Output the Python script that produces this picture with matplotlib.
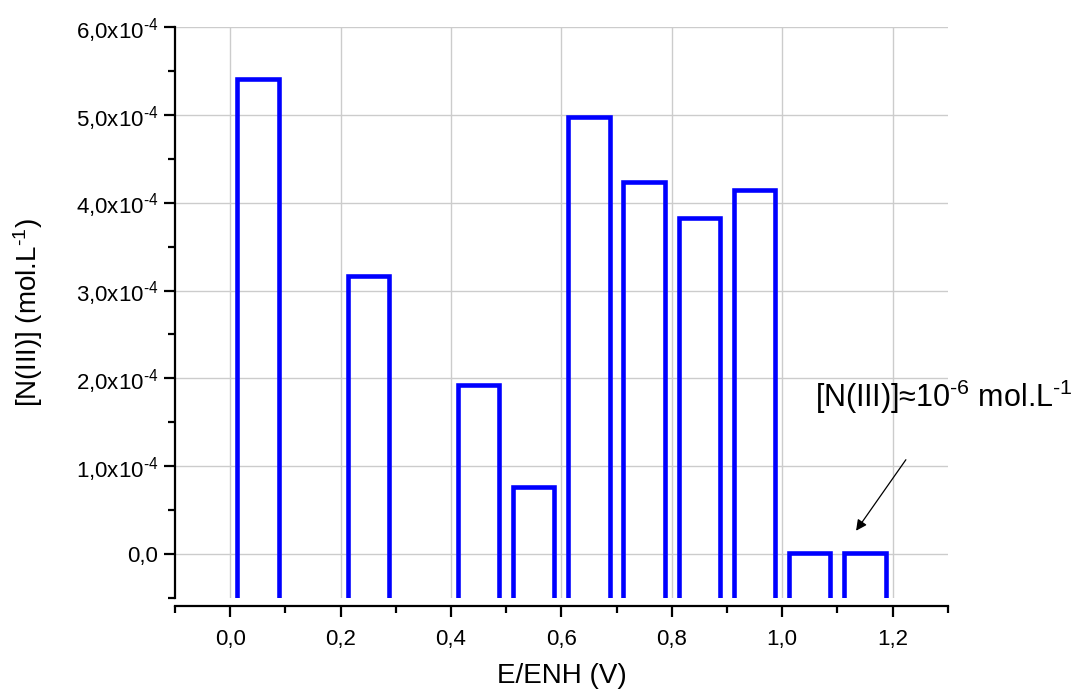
import matplotlib
matplotlib.use("Agg")
import matplotlib.pyplot as plt
from matplotlib.ticker import FixedLocator, MultipleLocator, FuncFormatter

plt.rcParams["font.family"] = ["Liberation Sans", "DejaVu Sans"]
plt.rcParams["mathtext.fontset"] = "custom"
plt.rcParams["mathtext.rm"] = "Liberation Sans"
plt.rcParams["mathtext.it"] = "Liberation Sans:italic"

# potentials (V vs ENH) and measured N(III) concentrations (mol/L)
potentials = [0.05, 0.25, 0.45, 0.55, 0.65, 0.75, 0.85, 0.95, 1.05, 1.15]
concentrations = [5.41e-4, 3.16e-4, 1.93e-4, 0.76e-4, 4.98e-4, 4.23e-4,
                  3.82e-4, 4.15e-4, 1e-6, 1e-6]
y_ticks = [0, 1e-4, 2e-4, 3e-4, 4e-4, 5e-4, 6e-4]
x_ticks = [0.0, 0.2, 0.4, 0.6, 0.8, 1.0, 1.2]

y_low, y_high = -0.5e-4, 6e-4
bar_base = -1e-4

fig = plt.figure(figsize=(10.77, 6.90), dpi=100)
ax = fig.add_axes([0.1625, 0.1333, 0.7175, 0.8276])

ax.bar(potentials, [c - bar_base for c in concentrations], bottom=bar_base,
       width=0.075, facecolor="none", edgecolor="#0000ff", linewidth=3.3,
       zorder=3)

ax.set_xlim(-0.1, 1.3)
ax.set_ylim(y_low, y_high)

ax.xaxis.set_major_locator(FixedLocator(x_ticks))
ax.xaxis.set_minor_locator(MultipleLocator(0.1))
ax.yaxis.set_major_locator(FixedLocator(y_ticks))
ax.yaxis.set_minor_locator(MultipleLocator(0.5e-4))


def fmt_x(v, pos):
    return f"{v:.1f}".replace(".", ",")


def fmt_y(v, pos):
    if abs(v) < 1e-12:
        return "0,0"
    m = v / 1e-4
    return f"{m:.1f}".replace(".", ",") + r"x10$^{\text{-4}}$"


ax.xaxis.set_major_formatter(FuncFormatter(fmt_x))
ax.yaxis.set_major_formatter(FuncFormatter(fmt_y))

ax.spines["top"].set_visible(False)
ax.spines["right"].set_visible(False)
ax.spines["bottom"].set_position(("outward", 6))
for s in ("left", "bottom"):
    ax.spines[s].set_linewidth(1.6)

ax.tick_params(which="major", direction="out", length=8, width=1.6,
               labelsize=16, pad=4)
ax.tick_params(which="minor", direction="out", length=5, width=1.6)
ax.tick_params(axis="x", which="major", pad=8)

ax.grid(True, which="major", color="#cccccc", linewidth=1.0, zorder=0)
ax.set_axisbelow(True)

ax.set_xlabel("E/ENH (V)", fontsize=20, labelpad=10)
ax.set_ylabel(r"[N(III)] (mol.L$^{\text{-1}}$)", fontsize=20, labelpad=22)

ax.annotate("", xy=(1.131, 0.24e-4), xytext=(1.227, 1.10e-4),
            arrowprops=dict(arrowstyle="-|>", color="black", lw=0.9,
                            mutation_scale=16),
            annotation_clip=False)
ax.text(1.06, 1.67e-4, "[N(III)]\u224810$^{\\text{-6}}$ mol.L$^{\\text{-1}}$",
        fontsize=22, ha="left", va="baseline", clip_on=False)

fig.savefig("out.png", dpi=100)
